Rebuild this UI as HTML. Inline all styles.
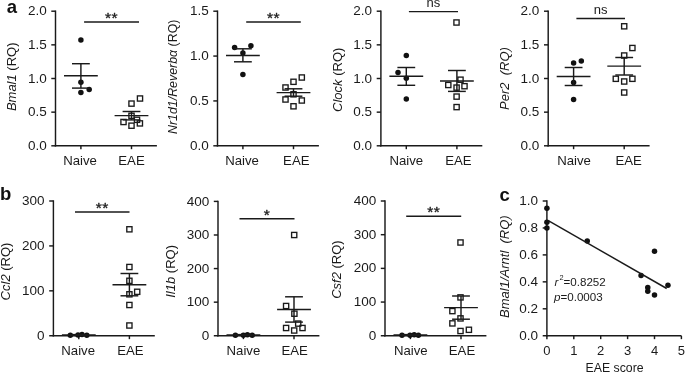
<!DOCTYPE html>
<html><head><meta charset="utf-8"><title>Figure</title>
<style>
html,body{margin:0;padding:0;background:#fff;}
body{width:685px;height:372px;overflow:hidden;}
svg{display:block;}
text{font-family:"Liberation Sans",Arial,Helvetica,sans-serif;font-size:13px;fill:#1a1a1a;}
line{stroke:#1a1a1a;stroke-linecap:butt;}
circle{fill:#111;}
.sq{fill:none;stroke:#1a1a1a;stroke-width:1.35;}
.lab{font-weight:bold;font-size:18.5px;fill:#111;}
.tk{font-size:13.5px;}
.cat{font-size:13.2px;}
.ast{font-size:15.5px;stroke:#1a1a1a;stroke-width:0.35px;stroke-linejoin:round;letter-spacing:0.5px;}
</style></head>
<body>
<svg width="685" height="372" viewBox="0 0 685 372">
<rect width="685" height="372" fill="#fff"/>
<line x1="55.50" y1="10.47" x2="55.50" y2="146.53" stroke-width="1.45"/>
<line x1="51.30" y1="145.80" x2="55.50" y2="145.80" stroke-width="1.45"/>
<text x="46.70" y="149.90" text-anchor="end" class="tk">0.0</text>
<line x1="51.30" y1="112.15" x2="55.50" y2="112.15" stroke-width="1.45"/>
<text x="46.70" y="116.25" text-anchor="end" class="tk">0.5</text>
<line x1="51.30" y1="78.50" x2="55.50" y2="78.50" stroke-width="1.45"/>
<text x="46.70" y="82.60" text-anchor="end" class="tk">1.0</text>
<line x1="51.30" y1="44.85" x2="55.50" y2="44.85" stroke-width="1.45"/>
<text x="46.70" y="48.95" text-anchor="end" class="tk">1.5</text>
<line x1="51.30" y1="11.20" x2="55.50" y2="11.20" stroke-width="1.45"/>
<text x="46.70" y="15.30" text-anchor="end" class="tk">2.0</text>
<line x1="54.77" y1="145.80" x2="156.90" y2="145.80" stroke-width="1.45"/>
<line x1="80.90" y1="145.80" x2="80.90" y2="149.20" stroke-width="1.45"/>
<text x="80.10" y="165.10" text-anchor="middle" class="cat">Naive</text>
<line x1="131.50" y1="145.80" x2="131.50" y2="149.20" stroke-width="1.45"/>
<text x="131.50" y="165.10" text-anchor="middle" class="cat">EAE</text>
<text transform="translate(16.20,76.80) rotate(-90)" text-anchor="middle"><tspan font-style="italic">Bmal1</tspan> (RQ)</text>
<circle cx="80.90" cy="40.10" r="2.75"/>
<circle cx="80.90" cy="82.30" r="2.75"/>
<circle cx="89.20" cy="89.50" r="2.75"/>
<circle cx="80.90" cy="92.40" r="2.75"/>
<line x1="64.00" y1="75.80" x2="97.80" y2="75.80" stroke-width="1.45"/>
<line x1="80.90" y1="63.70" x2="80.90" y2="88.10" stroke-width="1.45"/>
<line x1="72.00" y1="63.70" x2="89.80" y2="63.70" stroke-width="1.45"/>
<line x1="72.00" y1="88.10" x2="89.80" y2="88.10" stroke-width="1.45"/>
<rect x="137.40" y="95.90" width="5.2" height="5.2" class="sq"/>
<rect x="128.90" y="101.00" width="5.2" height="5.2" class="sq"/>
<rect x="128.90" y="113.20" width="5.2" height="5.2" class="sq"/>
<rect x="120.90" y="119.40" width="5.2" height="5.2" class="sq"/>
<rect x="128.90" y="123.10" width="5.2" height="5.2" class="sq"/>
<rect x="137.30" y="120.80" width="5.2" height="5.2" class="sq"/>
<rect x="134.40" y="117.20" width="5.2" height="5.2" class="sq"/>
<line x1="114.60" y1="115.60" x2="148.40" y2="115.60" stroke-width="1.45"/>
<line x1="131.50" y1="111.50" x2="131.50" y2="119.90" stroke-width="1.45"/>
<line x1="122.60" y1="111.50" x2="140.40" y2="111.50" stroke-width="1.45"/>
<line x1="122.60" y1="119.90" x2="140.40" y2="119.90" stroke-width="1.45"/>
<line x1="84.10" y1="21.90" x2="139.00" y2="21.90" stroke-width="1.45"/>
<text x="111.55" y="22.90" text-anchor="middle" class="ast">**</text>
<line x1="217.50" y1="10.47" x2="217.50" y2="146.53" stroke-width="1.45"/>
<line x1="213.30" y1="145.80" x2="217.50" y2="145.80" stroke-width="1.45"/>
<text x="208.70" y="149.90" text-anchor="end" class="tk">0.0</text>
<line x1="213.30" y1="100.93" x2="217.50" y2="100.93" stroke-width="1.45"/>
<text x="208.70" y="105.03" text-anchor="end" class="tk">0.5</text>
<line x1="213.30" y1="56.07" x2="217.50" y2="56.07" stroke-width="1.45"/>
<text x="208.70" y="60.17" text-anchor="end" class="tk">1.0</text>
<line x1="213.30" y1="11.20" x2="217.50" y2="11.20" stroke-width="1.45"/>
<text x="208.70" y="15.30" text-anchor="end" class="tk">1.5</text>
<line x1="216.78" y1="145.80" x2="318.90" y2="145.80" stroke-width="1.45"/>
<line x1="242.90" y1="145.80" x2="242.90" y2="149.20" stroke-width="1.45"/>
<text x="242.10" y="165.10" text-anchor="middle" class="cat">Naive</text>
<line x1="293.50" y1="145.80" x2="293.50" y2="149.20" stroke-width="1.45"/>
<text x="296.30" y="165.10" text-anchor="middle" class="cat">EAE</text>
<text transform="translate(176.60,76.80) rotate(-90)" text-anchor="middle"><tspan style="font-size:12.4px"><tspan font-style="italic">Nr1d1/Reverbα</tspan> (RQ)</tspan></text>
<circle cx="234.60" cy="47.50" r="2.75"/>
<circle cx="242.90" cy="53.00" r="2.75"/>
<circle cx="250.90" cy="45.80" r="2.75"/>
<circle cx="242.90" cy="74.50" r="2.75"/>
<line x1="226.00" y1="55.40" x2="259.80" y2="55.40" stroke-width="1.45"/>
<line x1="242.90" y1="48.80" x2="242.90" y2="61.80" stroke-width="1.45"/>
<line x1="234.00" y1="48.80" x2="251.80" y2="48.80" stroke-width="1.45"/>
<line x1="234.00" y1="61.80" x2="251.80" y2="61.80" stroke-width="1.45"/>
<rect x="299.20" y="74.90" width="5.2" height="5.2" class="sq"/>
<rect x="290.90" y="79.20" width="5.2" height="5.2" class="sq"/>
<rect x="282.90" y="84.90" width="5.2" height="5.2" class="sq"/>
<rect x="290.90" y="91.70" width="5.2" height="5.2" class="sq"/>
<rect x="282.90" y="96.90" width="5.2" height="5.2" class="sq"/>
<rect x="299.20" y="97.90" width="5.2" height="5.2" class="sq"/>
<rect x="290.90" y="103.70" width="5.2" height="5.2" class="sq"/>
<line x1="276.60" y1="92.60" x2="310.40" y2="92.60" stroke-width="1.45"/>
<line x1="293.50" y1="88.80" x2="293.50" y2="96.20" stroke-width="1.45"/>
<line x1="284.60" y1="88.80" x2="302.40" y2="88.80" stroke-width="1.45"/>
<line x1="284.60" y1="96.20" x2="302.40" y2="96.20" stroke-width="1.45"/>
<line x1="246.20" y1="21.90" x2="300.80" y2="21.90" stroke-width="1.45"/>
<text x="273.50" y="22.60" text-anchor="middle" class="ast">**</text>
<line x1="380.90" y1="10.47" x2="380.90" y2="146.53" stroke-width="1.45"/>
<line x1="376.70" y1="145.80" x2="380.90" y2="145.80" stroke-width="1.45"/>
<text x="372.10" y="149.90" text-anchor="end" class="tk">0.0</text>
<line x1="376.70" y1="112.15" x2="380.90" y2="112.15" stroke-width="1.45"/>
<text x="372.10" y="116.25" text-anchor="end" class="tk">0.5</text>
<line x1="376.70" y1="78.50" x2="380.90" y2="78.50" stroke-width="1.45"/>
<text x="372.10" y="82.60" text-anchor="end" class="tk">1.0</text>
<line x1="376.70" y1="44.85" x2="380.90" y2="44.85" stroke-width="1.45"/>
<text x="372.10" y="48.95" text-anchor="end" class="tk">1.5</text>
<line x1="376.70" y1="11.20" x2="380.90" y2="11.20" stroke-width="1.45"/>
<text x="372.10" y="15.30" text-anchor="end" class="tk">2.0</text>
<line x1="380.17" y1="145.80" x2="482.30" y2="145.80" stroke-width="1.45"/>
<line x1="406.30" y1="145.80" x2="406.30" y2="149.20" stroke-width="1.45"/>
<text x="406.30" y="165.10" text-anchor="middle" class="cat">Naive</text>
<line x1="456.90" y1="145.80" x2="456.90" y2="149.20" stroke-width="1.45"/>
<text x="458.40" y="165.10" text-anchor="middle" class="cat">EAE</text>
<text transform="translate(341.60,79.80) rotate(-90)" text-anchor="middle"><tspan font-style="italic">Clock</tspan> (RQ)</text>
<circle cx="406.30" cy="55.50" r="2.75"/>
<circle cx="398.00" cy="72.50" r="2.75"/>
<circle cx="406.30" cy="78.30" r="2.75"/>
<circle cx="406.30" cy="99.00" r="2.75"/>
<line x1="389.40" y1="76.30" x2="423.20" y2="76.30" stroke-width="1.45"/>
<line x1="406.30" y1="67.50" x2="406.30" y2="85.30" stroke-width="1.45"/>
<line x1="397.40" y1="67.50" x2="415.20" y2="67.50" stroke-width="1.45"/>
<line x1="397.40" y1="85.30" x2="415.20" y2="85.30" stroke-width="1.45"/>
<rect x="453.90" y="19.90" width="5.2" height="5.2" class="sq"/>
<rect x="457.90" y="77.10" width="5.2" height="5.2" class="sq"/>
<rect x="445.70" y="82.40" width="5.2" height="5.2" class="sq"/>
<rect x="454.00" y="85.00" width="5.2" height="5.2" class="sq"/>
<rect x="461.90" y="83.60" width="5.2" height="5.2" class="sq"/>
<rect x="454.00" y="94.00" width="5.2" height="5.2" class="sq"/>
<rect x="454.00" y="104.50" width="5.2" height="5.2" class="sq"/>
<line x1="440.00" y1="81.00" x2="473.80" y2="81.00" stroke-width="1.45"/>
<line x1="456.90" y1="70.50" x2="456.90" y2="91.40" stroke-width="1.45"/>
<line x1="448.00" y1="70.50" x2="465.80" y2="70.50" stroke-width="1.45"/>
<line x1="448.00" y1="91.40" x2="465.80" y2="91.40" stroke-width="1.45"/>
<line x1="408.90" y1="11.60" x2="458.00" y2="11.60" stroke-width="1.45"/>
<text x="433.45" y="7.20" text-anchor="middle" >ns</text>
<line x1="548.20" y1="10.47" x2="548.20" y2="146.53" stroke-width="1.45"/>
<line x1="544.00" y1="145.80" x2="548.20" y2="145.80" stroke-width="1.45"/>
<text x="539.40" y="149.90" text-anchor="end" class="tk">0.0</text>
<line x1="544.00" y1="112.15" x2="548.20" y2="112.15" stroke-width="1.45"/>
<text x="539.40" y="116.25" text-anchor="end" class="tk">0.5</text>
<line x1="544.00" y1="78.50" x2="548.20" y2="78.50" stroke-width="1.45"/>
<text x="539.40" y="82.60" text-anchor="end" class="tk">1.0</text>
<line x1="544.00" y1="44.85" x2="548.20" y2="44.85" stroke-width="1.45"/>
<text x="539.40" y="48.95" text-anchor="end" class="tk">1.5</text>
<line x1="544.00" y1="11.20" x2="548.20" y2="11.20" stroke-width="1.45"/>
<text x="539.40" y="15.30" text-anchor="end" class="tk">2.0</text>
<line x1="547.48" y1="145.80" x2="649.60" y2="145.80" stroke-width="1.45"/>
<line x1="573.60" y1="145.80" x2="573.60" y2="149.20" stroke-width="1.45"/>
<text x="574.10" y="165.10" text-anchor="middle" class="cat">Naive</text>
<line x1="624.20" y1="145.80" x2="624.20" y2="149.20" stroke-width="1.45"/>
<text x="628.70" y="165.10" text-anchor="middle" class="cat">EAE</text>
<text transform="translate(509.00,78.60) rotate(-90)" text-anchor="middle"><tspan font-style="italic">Per2  (RQ)</tspan></text>
<circle cx="573.60" cy="63.00" r="2.75"/>
<circle cx="581.30" cy="61.00" r="2.75"/>
<circle cx="573.60" cy="82.50" r="2.75"/>
<circle cx="573.60" cy="99.50" r="2.75"/>
<line x1="556.70" y1="76.40" x2="590.50" y2="76.40" stroke-width="1.45"/>
<line x1="573.60" y1="67.50" x2="573.60" y2="85.50" stroke-width="1.45"/>
<line x1="564.70" y1="67.50" x2="582.50" y2="67.50" stroke-width="1.45"/>
<line x1="564.70" y1="85.50" x2="582.50" y2="85.50" stroke-width="1.45"/>
<rect x="621.60" y="23.70" width="5.2" height="5.2" class="sq"/>
<rect x="629.80" y="45.40" width="5.2" height="5.2" class="sq"/>
<rect x="621.60" y="52.90" width="5.2" height="5.2" class="sq"/>
<rect x="613.20" y="76.20" width="5.2" height="5.2" class="sq"/>
<rect x="621.60" y="78.90" width="5.2" height="5.2" class="sq"/>
<rect x="629.80" y="76.20" width="5.2" height="5.2" class="sq"/>
<rect x="621.60" y="89.90" width="5.2" height="5.2" class="sq"/>
<line x1="607.30" y1="66.10" x2="641.10" y2="66.10" stroke-width="1.45"/>
<line x1="624.20" y1="57.50" x2="624.20" y2="75.00" stroke-width="1.45"/>
<line x1="615.30" y1="57.50" x2="633.10" y2="57.50" stroke-width="1.45"/>
<line x1="615.30" y1="75.00" x2="633.10" y2="75.00" stroke-width="1.45"/>
<line x1="576.40" y1="18.40" x2="625.00" y2="18.40" stroke-width="1.45"/>
<text x="600.70" y="13.80" text-anchor="middle" >ns</text>
<line x1="53.40" y1="200.28" x2="53.40" y2="336.48" stroke-width="1.45"/>
<line x1="49.20" y1="335.75" x2="53.40" y2="335.75" stroke-width="1.45"/>
<text x="44.60" y="339.85" text-anchor="end" class="tk">0</text>
<line x1="49.20" y1="290.83" x2="53.40" y2="290.83" stroke-width="1.45"/>
<text x="44.60" y="294.93" text-anchor="end" class="tk">100</text>
<line x1="49.20" y1="245.92" x2="53.40" y2="245.92" stroke-width="1.45"/>
<text x="44.60" y="250.02" text-anchor="end" class="tk">200</text>
<line x1="49.20" y1="201.00" x2="53.40" y2="201.00" stroke-width="1.45"/>
<text x="44.60" y="205.10" text-anchor="end" class="tk">300</text>
<line x1="52.67" y1="335.75" x2="154.80" y2="335.75" stroke-width="1.45"/>
<line x1="78.80" y1="335.75" x2="78.80" y2="339.15" stroke-width="1.45"/>
<text x="78.20" y="355.05" text-anchor="middle" class="cat">Naive</text>
<line x1="129.40" y1="335.75" x2="129.40" y2="339.15" stroke-width="1.45"/>
<text x="130.40" y="355.05" text-anchor="middle" class="cat">EAE</text>
<text transform="translate(9.60,271.50) rotate(-90)" text-anchor="middle"><tspan font-style="italic">Ccl2</tspan> (RQ)</text>
<circle cx="70.30" cy="335.30" r="2.75"/>
<circle cx="78.00" cy="335.00" r="2.75"/>
<circle cx="82.00" cy="334.40" r="2.75"/>
<circle cx="86.80" cy="335.30" r="2.75"/>
<line x1="61.90" y1="335.00" x2="95.70" y2="335.00" stroke-width="1.45"/>
<line x1="78.80" y1="334.60" x2="78.80" y2="335.40" stroke-width="1.45"/>
<line x1="69.90" y1="334.60" x2="87.70" y2="334.60" stroke-width="1.45"/>
<line x1="69.90" y1="335.40" x2="87.70" y2="335.40" stroke-width="1.45"/>
<rect x="126.80" y="226.70" width="5.2" height="5.2" class="sq"/>
<rect x="126.80" y="264.40" width="5.2" height="5.2" class="sq"/>
<rect x="126.80" y="278.20" width="5.2" height="5.2" class="sq"/>
<rect x="134.60" y="289.20" width="5.2" height="5.2" class="sq"/>
<rect x="126.80" y="291.70" width="5.2" height="5.2" class="sq"/>
<rect x="126.80" y="302.40" width="5.2" height="5.2" class="sq"/>
<rect x="126.80" y="322.90" width="5.2" height="5.2" class="sq"/>
<line x1="112.50" y1="284.80" x2="146.30" y2="284.80" stroke-width="1.45"/>
<line x1="129.40" y1="273.50" x2="129.40" y2="295.80" stroke-width="1.45"/>
<line x1="120.50" y1="273.50" x2="138.30" y2="273.50" stroke-width="1.45"/>
<line x1="120.50" y1="295.80" x2="138.30" y2="295.80" stroke-width="1.45"/>
<line x1="75.00" y1="212.00" x2="129.50" y2="212.00" stroke-width="1.45"/>
<text x="102.25" y="213.10" text-anchor="middle" class="ast">**</text>
<line x1="218.00" y1="200.68" x2="218.00" y2="336.48" stroke-width="1.45"/>
<line x1="213.80" y1="335.75" x2="218.00" y2="335.75" stroke-width="1.45"/>
<text x="209.20" y="339.85" text-anchor="end" class="tk">0</text>
<line x1="213.80" y1="302.16" x2="218.00" y2="302.16" stroke-width="1.45"/>
<text x="209.20" y="306.26" text-anchor="end" class="tk">100</text>
<line x1="213.80" y1="268.57" x2="218.00" y2="268.57" stroke-width="1.45"/>
<text x="209.20" y="272.68" text-anchor="end" class="tk">200</text>
<line x1="213.80" y1="234.99" x2="218.00" y2="234.99" stroke-width="1.45"/>
<text x="209.20" y="239.09" text-anchor="end" class="tk">300</text>
<line x1="213.80" y1="201.40" x2="218.00" y2="201.40" stroke-width="1.45"/>
<text x="209.20" y="205.50" text-anchor="end" class="tk">400</text>
<line x1="217.28" y1="335.75" x2="319.40" y2="335.75" stroke-width="1.45"/>
<line x1="243.40" y1="335.75" x2="243.40" y2="339.15" stroke-width="1.45"/>
<text x="243.40" y="355.05" text-anchor="middle" class="cat">Naive</text>
<line x1="294.00" y1="335.75" x2="294.00" y2="339.15" stroke-width="1.45"/>
<text x="294.60" y="355.05" text-anchor="middle" class="cat">EAE</text>
<text transform="translate(175.30,271.40) rotate(-90)" text-anchor="middle"><tspan font-style="italic">Il1b</tspan> (RQ)</text>
<circle cx="235.40" cy="335.30" r="2.75"/>
<circle cx="243.40" cy="335.30" r="2.75"/>
<circle cx="247.40" cy="334.80" r="2.75"/>
<circle cx="252.20" cy="335.30" r="2.75"/>
<line x1="226.50" y1="335.00" x2="260.30" y2="335.00" stroke-width="1.45"/>
<line x1="243.40" y1="334.60" x2="243.40" y2="335.40" stroke-width="1.45"/>
<line x1="234.50" y1="334.60" x2="252.30" y2="334.60" stroke-width="1.45"/>
<line x1="234.50" y1="335.40" x2="252.30" y2="335.40" stroke-width="1.45"/>
<rect x="291.60" y="232.40" width="5.2" height="5.2" class="sq"/>
<rect x="283.50" y="303.40" width="5.2" height="5.2" class="sq"/>
<rect x="291.80" y="311.10" width="5.2" height="5.2" class="sq"/>
<rect x="295.60" y="321.00" width="5.2" height="5.2" class="sq"/>
<rect x="283.50" y="325.40" width="5.2" height="5.2" class="sq"/>
<rect x="291.60" y="327.90" width="5.2" height="5.2" class="sq"/>
<rect x="299.90" y="325.40" width="5.2" height="5.2" class="sq"/>
<line x1="277.10" y1="309.50" x2="310.90" y2="309.50" stroke-width="1.45"/>
<line x1="294.00" y1="296.80" x2="294.00" y2="322.10" stroke-width="1.45"/>
<line x1="285.10" y1="296.80" x2="302.90" y2="296.80" stroke-width="1.45"/>
<line x1="285.10" y1="322.10" x2="302.90" y2="322.10" stroke-width="1.45"/>
<line x1="239.50" y1="218.70" x2="294.50" y2="218.70" stroke-width="1.45"/>
<text x="267.00" y="219.60" text-anchor="middle" class="ast">*</text>
<line x1="385.00" y1="200.28" x2="385.00" y2="336.48" stroke-width="1.45"/>
<line x1="380.80" y1="335.75" x2="385.00" y2="335.75" stroke-width="1.45"/>
<text x="376.20" y="339.85" text-anchor="end" class="tk">0</text>
<line x1="380.80" y1="302.06" x2="385.00" y2="302.06" stroke-width="1.45"/>
<text x="376.20" y="306.16" text-anchor="end" class="tk">100</text>
<line x1="380.80" y1="268.38" x2="385.00" y2="268.38" stroke-width="1.45"/>
<text x="376.20" y="272.48" text-anchor="end" class="tk">200</text>
<line x1="380.80" y1="234.69" x2="385.00" y2="234.69" stroke-width="1.45"/>
<text x="376.20" y="238.79" text-anchor="end" class="tk">300</text>
<line x1="380.80" y1="201.00" x2="385.00" y2="201.00" stroke-width="1.45"/>
<text x="376.20" y="205.10" text-anchor="end" class="tk">400</text>
<line x1="384.27" y1="335.75" x2="486.40" y2="335.75" stroke-width="1.45"/>
<line x1="410.40" y1="335.75" x2="410.40" y2="339.15" stroke-width="1.45"/>
<text x="410.80" y="355.05" text-anchor="middle" class="cat">Naive</text>
<line x1="461.00" y1="335.75" x2="461.00" y2="339.15" stroke-width="1.45"/>
<text x="462.00" y="355.05" text-anchor="middle" class="cat">EAE</text>
<text transform="translate(340.60,269.60) rotate(-90)" text-anchor="middle"><tspan font-style="italic">Csf2</tspan> (RQ)</text>
<circle cx="402.00" cy="335.30" r="2.75"/>
<circle cx="410.00" cy="335.30" r="2.75"/>
<circle cx="414.20" cy="334.80" r="2.75"/>
<circle cx="418.40" cy="335.30" r="2.75"/>
<line x1="393.50" y1="335.00" x2="427.30" y2="335.00" stroke-width="1.45"/>
<line x1="410.40" y1="334.60" x2="410.40" y2="335.40" stroke-width="1.45"/>
<line x1="401.50" y1="334.60" x2="419.30" y2="334.60" stroke-width="1.45"/>
<line x1="401.50" y1="335.40" x2="419.30" y2="335.40" stroke-width="1.45"/>
<rect x="457.90" y="239.90" width="5.2" height="5.2" class="sq"/>
<rect x="457.90" y="294.80" width="5.2" height="5.2" class="sq"/>
<rect x="449.80" y="308.50" width="5.2" height="5.2" class="sq"/>
<rect x="457.90" y="315.80" width="5.2" height="5.2" class="sq"/>
<rect x="449.80" y="320.80" width="5.2" height="5.2" class="sq"/>
<rect x="457.90" y="328.40" width="5.2" height="5.2" class="sq"/>
<rect x="466.30" y="327.20" width="5.2" height="5.2" class="sq"/>
<line x1="444.10" y1="307.60" x2="477.90" y2="307.60" stroke-width="1.45"/>
<line x1="461.00" y1="296.00" x2="461.00" y2="319.20" stroke-width="1.45"/>
<line x1="452.10" y1="296.00" x2="469.90" y2="296.00" stroke-width="1.45"/>
<line x1="452.10" y1="319.20" x2="469.90" y2="319.20" stroke-width="1.45"/>
<line x1="406.20" y1="216.20" x2="461.20" y2="216.20" stroke-width="1.45"/>
<text x="433.70" y="216.90" text-anchor="middle" class="ast">**</text>
<line x1="546.90" y1="200.28" x2="546.90" y2="336.48" stroke-width="1.45"/>
<line x1="542.70" y1="335.75" x2="546.90" y2="335.75" stroke-width="1.45"/>
<text x="538.10" y="339.85" text-anchor="end" class="tk">0.0</text>
<line x1="542.70" y1="308.80" x2="546.90" y2="308.80" stroke-width="1.45"/>
<text x="538.10" y="312.90" text-anchor="end" class="tk">0.2</text>
<line x1="542.70" y1="281.85" x2="546.90" y2="281.85" stroke-width="1.45"/>
<text x="538.10" y="285.95" text-anchor="end" class="tk">0.4</text>
<line x1="542.70" y1="254.90" x2="546.90" y2="254.90" stroke-width="1.45"/>
<text x="538.10" y="259.00" text-anchor="end" class="tk">0.6</text>
<line x1="542.70" y1="227.95" x2="546.90" y2="227.95" stroke-width="1.45"/>
<text x="538.10" y="232.05" text-anchor="end" class="tk">0.8</text>
<line x1="542.70" y1="201.00" x2="546.90" y2="201.00" stroke-width="1.45"/>
<text x="538.10" y="205.10" text-anchor="end" class="tk">1.0</text>
<line x1="546.17" y1="335.75" x2="681.40" y2="335.75" stroke-width="1.45"/>
<line x1="546.90" y1="335.75" x2="546.90" y2="339.15" stroke-width="1.45"/>
<text x="546.90" y="355.05" text-anchor="middle" >0</text>
<line x1="573.80" y1="335.75" x2="573.80" y2="339.15" stroke-width="1.45"/>
<text x="573.80" y="355.05" text-anchor="middle" >1</text>
<line x1="600.70" y1="335.75" x2="600.70" y2="339.15" stroke-width="1.45"/>
<text x="600.70" y="355.05" text-anchor="middle" >2</text>
<line x1="627.60" y1="335.75" x2="627.60" y2="339.15" stroke-width="1.45"/>
<text x="627.60" y="355.05" text-anchor="middle" >3</text>
<line x1="654.50" y1="335.75" x2="654.50" y2="339.15" stroke-width="1.45"/>
<text x="654.50" y="355.05" text-anchor="middle" >4</text>
<line x1="681.40" y1="335.75" x2="681.40" y2="339.15" stroke-width="1.45"/>
<text x="681.40" y="355.05" text-anchor="middle" >5</text>
<text x="614.6" y="372.3" text-anchor="middle" style="font-size:12.3px">EAE score</text>
<text transform="translate(509.1,266.6) rotate(-90)" text-anchor="middle" font-style="italic">Bmal1/Arntl  (RQ)</text>
<circle cx="546.90" cy="208.30" r="2.75"/>
<circle cx="546.90" cy="222.20" r="2.75"/>
<circle cx="546.90" cy="227.90" r="2.75"/>
<circle cx="587.25" cy="240.90" r="2.75"/>
<circle cx="654.50" cy="251.30" r="2.75"/>
<circle cx="641.05" cy="275.60" r="2.75"/>
<circle cx="647.77" cy="287.60" r="2.75"/>
<circle cx="647.77" cy="291.20" r="2.75"/>
<circle cx="654.50" cy="295.10" r="2.75"/>
<circle cx="667.95" cy="285.20" r="2.75"/>
<line x1="548.30" y1="220.60" x2="666.70" y2="288.50" stroke-width="1.45"/>
<text x="554.5" y="285.7" style="font-size:11.6px"><tspan font-style="italic">r</tspan><tspan dx="1.0" dy="-6.2" style="font-size:7.4px">2</tspan><tspan dy="6.4">=0.8252</tspan></text>
<text x="554.0" y="300.8" style="font-size:11.6px"><tspan font-style="italic">p</tspan>=0.0003</text>
<text x="6.7" y="12.6" class="lab">a</text>
<text x="0.0" y="200.3" class="lab">b</text>
<text x="499.5" y="200.9" class="lab">c</text>
</svg>
</body></html>
